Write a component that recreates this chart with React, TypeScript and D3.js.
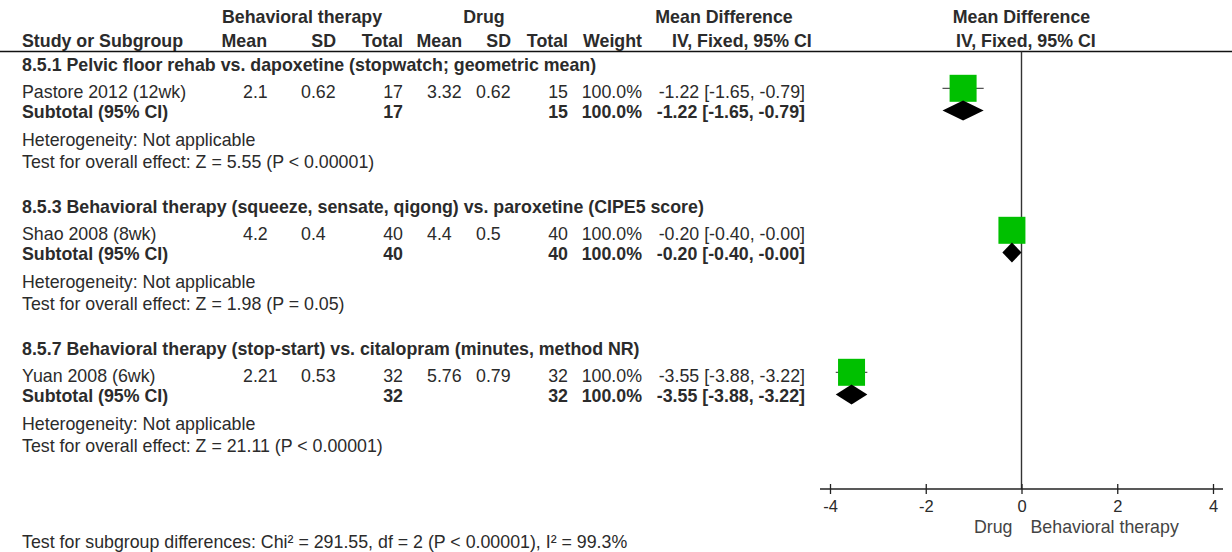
import { useEffect, useRef } from 'react'
import * as d3 from 'd3'

const groupTitles = [
  '8.5.1 Pelvic floor rehab vs. dapoxetine (stopwatch; geometric mean)',
  '8.5.3 Behavioral therapy (squeeze, sensate, qigong) vs. paroxetine (CIPE5 score)',
  '8.5.7 Behavioral therapy (stop-start) vs. citalopram (minutes, method NR)',
]
const studies = ['Pastore 2012 (12wk)', 'Shao 2008 (8wk)', 'Yuan 2008 (6wk)']
const btMean = ['2.1', '4.2', '2.21']
const btSD = ['0.62', '0.4', '0.53']
const btTotal = [17, 40, 32]
const drugMean = ['3.32', '4.4', '5.76']
const drugSD = ['0.62', '0.5', '0.79']
const drugTotal = [15, 40, 32]
const weights = [100, 100, 100]
const md = [-1.22, -0.2, -3.55]
const ciLow = [-1.65, -0.4, -3.88]
const ciHigh = [-0.79, -0.0, -3.22]
const overallEffect = ['Z = 5.55 (P < 0.00001)', 'Z = 1.98 (P = 0.05)', 'Z = 21.11 (P < 0.00001)']
const axisTicks = [-4, -2, 0, 2, 4]

const W = 1232
const H = 552
const FONT = '"Liberation Sans", Arial, sans-serif'
const TXT = '#2b2b2b'
const FS = 17.8

const fmt = (v: number) => (v < 0 || Object.is(v, -0) ? '-' : '') + Math.abs(v).toFixed(2)
const ciLabel = (i: number) => `${fmt(md[i])} [${fmt(ciLow[i])}, ${fmt(ciHigh[i])}]`

export default function App() {
  const axisRef = useRef<SVGGElement>(null)

  const x = d3.scaleLinear().domain([-4, 4]).range([830, 1213])
  const groupY = d3.scaleLinear().domain([0, 1]).range([71, 213])
  const sq = d3.scaleSqrt().domain([0, 100]).range([0, 27])
  const axisY = 489
  const headLineY = 51.5

  useEffect(() => {
    document.body.style.margin = '0'
    const g = d3.select(axisRef.current)
    g.selectAll('*').remove()
    g.call(
      d3.axisBottom(x)
        .tickValues(axisTicks)
        .tickFormat(d => String(d))
        .tickSizeOuter(0)
    )
    g.select('.domain').remove()
    g.selectAll('.tick line').attr('y1', -5).attr('y2', 5).attr('stroke', '#222').attr('stroke-width', 1.3)
    g.selectAll('.tick text')
      .attr('y', 23)
      .attr('dy', 0)
      .attr('font-size', 16.5)
      .attr('font-family', FONT)
      .attr('fill', TXT)
    g.insert('line', ':first-child')
      .attr('x1', x(-4) - 10)
      .attr('x2', x(4) + 10)
      .attr('y1', 0)
      .attr('y2', 0)
      .attr('stroke', '#222')
      .attr('stroke-width', 1.3)
  }, [])

  const t = (props: any, s: string) => (
    <text fontFamily={FONT} fontSize={FS} fill={TXT} {...props}>{s}</text>
  )

  return (
    <svg width={W} height={H} style={{ display: 'block', background: '#fff' }}>
      {/* column headers */}
      {t({ x: 302, y: 22.5, textAnchor: 'middle', fontWeight: 'bold' }, 'Behavioral therapy')}
      {t({ x: 484, y: 22.5, textAnchor: 'middle', fontWeight: 'bold' }, 'Drug')}
      {t({ x: 724, y: 22.5, textAnchor: 'middle', fontWeight: 'bold' }, 'Mean Difference')}
      {t({ x: 1021.5, y: 22.5, textAnchor: 'middle', fontWeight: 'bold' }, 'Mean Difference')}
      {t({ x: 22, y: 47, fontWeight: 'bold' }, 'Study or Subgroup')}
      {t({ x: 267, y: 47, textAnchor: 'end', fontWeight: 'bold' }, 'Mean')}
      {t({ x: 336, y: 47, textAnchor: 'end', fontWeight: 'bold' }, 'SD')}
      {t({ x: 403, y: 47, textAnchor: 'end', fontWeight: 'bold' }, 'Total')}
      {t({ x: 462, y: 47, textAnchor: 'end', fontWeight: 'bold' }, 'Mean')}
      {t({ x: 511, y: 47, textAnchor: 'end', fontWeight: 'bold' }, 'SD')}
      {t({ x: 568, y: 47, textAnchor: 'end', fontWeight: 'bold' }, 'Total')}
      {t({ x: 642, y: 47, textAnchor: 'end', fontWeight: 'bold' }, 'Weight')}
      {t({ x: 672, y: 47, fontWeight: 'bold' }, 'IV, Fixed, 95% CI')}
      {t({ x: 956, y: 47, fontWeight: 'bold' }, 'IV, Fixed, 95% CI')}
      <line x1={0} x2={W} y1={headLineY} y2={headLineY} stroke="#111" strokeWidth={1.6} />

      {/* zero line */}
      <line x1={x(0)} x2={x(0)} y1={headLineY} y2={axisY} stroke="#333" strokeWidth={1.4} />

      {groupTitles.map((title, i) => {
        const y0 = groupY(i)
        const yStudy = y0 + 26.5
        const ySub = y0 + 46.5
        const yHet = y0 + 74.5
        const yTest = y0 + 96.5
        const s = sq(weights[i])
        const cy = yStudy - 9.2
        const dy = ySub - 7
        const diamond = `M${x(ciLow[i])},${dy} L${x(md[i])},${dy - 10} L${x(ciHigh[i])},${dy} L${x(md[i])},${dy + 10} Z`
        return (
          <g key={title}>
            {t({ x: 22, y: y0, fontWeight: 'bold' }, title)}
            {t({ x: 22, y: yStudy }, studies[i])}
            {t({ x: 243, y: yStudy }, btMean[i])}
            {t({ x: 301, y: yStudy }, btSD[i])}
            {t({ x: 403, y: yStudy, textAnchor: 'end' }, String(btTotal[i]))}
            {t({ x: 427, y: yStudy }, drugMean[i])}
            {t({ x: 476, y: yStudy }, drugSD[i])}
            {t({ x: 568, y: yStudy, textAnchor: 'end' }, String(drugTotal[i]))}
            {t({ x: 642, y: yStudy, textAnchor: 'end' }, weights[i].toFixed(1) + '%')}
            {t({ x: 805, y: yStudy, textAnchor: 'end' }, ciLabel(i))}

            {t({ x: 22, y: ySub, fontWeight: 'bold' }, 'Subtotal (95% CI)')}
            {t({ x: 403, y: ySub, textAnchor: 'end', fontWeight: 'bold' }, String(btTotal[i]))}
            {t({ x: 568, y: ySub, textAnchor: 'end', fontWeight: 'bold' }, String(drugTotal[i]))}
            {t({ x: 642, y: ySub, textAnchor: 'end', fontWeight: 'bold' }, weights[i].toFixed(1) + '%')}
            {t({ x: 805, y: ySub, textAnchor: 'end', fontWeight: 'bold' }, ciLabel(i))}

            {t({ x: 22, y: yHet }, 'Heterogeneity: Not applicable')}
            {t({ x: 22, y: yTest }, 'Test for overall effect: ' + overallEffect[i])}

            <line x1={x(ciLow[i])} x2={x(ciHigh[i])} y1={cy} y2={cy} stroke="#555" strokeWidth={1.2} />
            <rect x={x(md[i]) - s / 2} y={cy - s / 2} width={s} height={s} fill="#00c000" />
            <path d={diamond} fill="#000" />
          </g>
        )
      })}

      <g ref={axisRef} transform={`translate(0,${axisY})`} />
      {t({ x: x(0) - 9, y: 533, textAnchor: 'end', fill: '#444' }, 'Drug')}
      {t({ x: x(0) + 9, y: 533, fill: '#444' }, 'Behavioral therapy')}

      {t({ x: 22, y: 547.5 }, 'Test for subgroup differences: Chi² = 291.55, df = 2 (P < 0.00001), I² = 99.3%')}
    </svg>
  )
}
